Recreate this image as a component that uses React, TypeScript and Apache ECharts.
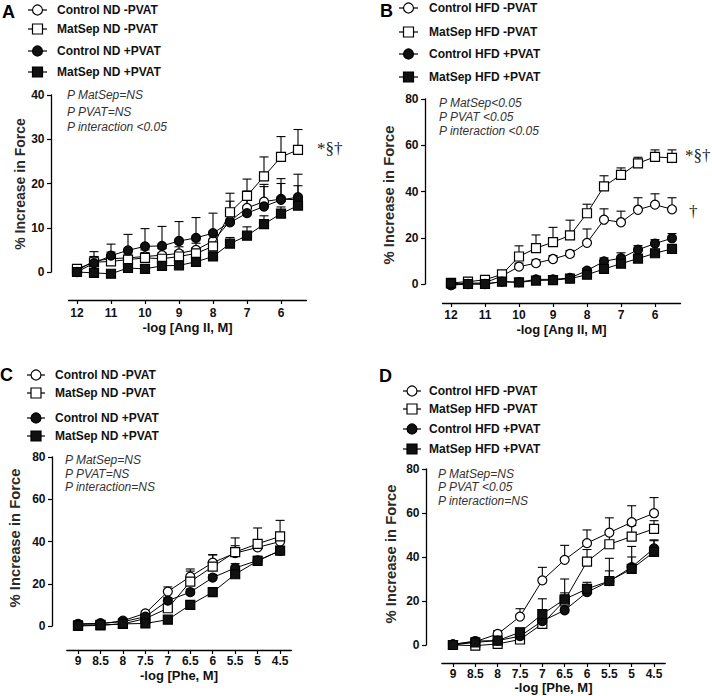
import React, { useEffect, useRef } from "react";
import * as echarts from "echarts";

// ---------- data ----------
const angX = [12, 11.5, 11, 10.5, 10, 9.5, 9, 8.5, 8, 7.5, 7, 6.5, 6, 5.5];
const pheX = [9, 8.5, 8, 7.5, 7, 6.5, 6, 5.5, 5, 4.5];
const angTicks = [12, 11, 10, 9, 8, 7, 6];
const pheTicks = [9, 8.5, 8, 7.5, 7, 6.5, 6, 5.5, 5, 4.5];

const ndNames = ["Control ND -PVAT", "MatSep ND -PVAT", "Control ND +PVAT", "MatSep ND +PVAT"];
const hfdNames = ["Control HFD -PVAT", "MatSep HFD -PVAT", "Control HFD +PVAT", "MatSep HFD +PVAT"];

// Panel A (Ang II, ND)
const aCtrlMinus = [0.3, 2.5, 3.0, 3.2, 3.5, 3.8, 4.2, 5.0, 7.0, 11.5, 14.5, 15.9, 16.5, 16.3];
const aCtrlMinusSem = [0.5, 1.0, 1.5, 1.5, 1.5, 1.5, 1.5, 1.5, 1.5, 2.5, 2.5, 3.4, 3.5, 3.2];
const aMatMinus = [0.7, 2.2, 2.4, 2.8, 3.2, 3.0, 3.5, 4.2, 5.8, 13.5, 17.2, 21.6, 26.0, 27.6];
const aMatMinusSem = [0.5, 2.4, 1.5, 1.5, 1.2, 1.3, 1.3, 1.3, 1.5, 4.3, 3.8, 4.4, 4.6, 4.6];
const aCtrlPlus = [0.0, 2.0, 3.7, 4.9, 5.8, 5.9, 7.0, 7.7, 8.8, 11.2, 13.3, 14.8, 16.3, 16.9];
const aCtrlPlusSem = [0.5, 1.5, 2.6, 3.6, 4.0, 4.4, 4.4, 4.6, 4.5, 4.8, 5.0, 5.0, 4.8, 5.2];
const aMatPlus = [0.0, -0.2, -0.4, 0.9, 0.7, 1.4, 1.5, 2.3, 3.5, 6.4, 8.2, 10.8, 13.2, 15.0];
const aMatPlusSem = [0.3, 0.4, 0.4, 0.5, 0.6, 0.6, 0.7, 0.8, 1.0, 1.4, 2.0, 1.9, 1.5, 1.0];

// Panel B (Ang II, HFD)
const bCtrlMinus = [-0.5, 0.3, 0.5, 3.5, 7.5, 9.0, 10.8, 13.0, 17.8, 27.8, 26.7, 32.1, 34.3, 32.3];
const bCtrlMinusSem = [0.3, 0.5, 0.5, 1.0, 1.5, 1.5, 1.5, 1.5, 6.0, 4.7, 4.8, 5.2, 4.7, 5.0];
const bMatMinus = [0.5, 1.0, 1.8, 4.2, 11.9, 15.5, 18.1, 21.0, 30.6, 42.2, 47.2, 52.2, 55.0, 54.5];
const bMatMinusSem = [0.3, 0.5, 0.8, 1.0, 4.6, 5.7, 6.4, 6.6, 3.9, 4.6, 3.0, 2.6, 3.0, 3.5];
const bCtrlPlus = [-0.5, 0.0, 0.0, 1.0, 0.8, 2.0, 2.0, 2.6, 5.8, 9.8, 11.2, 14.8, 17.5, 19.8];
const bCtrlPlusSem = [0.3, 0.3, 0.3, 0.5, 0.5, 0.5, 0.5, 0.5, 1.0, 1.5, 2.3, 1.8, 1.7, 2.0];
const bMatPlus = [0.3, 0.0, 0.0, 1.0, 0.7, 1.5, 1.7, 2.3, 4.0, 6.5, 8.8, 11.0, 13.3, 15.2];
const bMatPlusSem = [0.3, 0.3, 0.3, 0.4, 0.4, 0.5, 0.5, 0.6, 1.0, 1.5, 1.8, 1.5, 1.5, 1.5];

// Panel C (Phe, ND)
const cCtrlMinus = [0.8, 1.0, 2.5, 6.0, 16.3, 23.4, 30.0, 34.5, 37.2, 40.0];
const cCtrlMinusSem = [0.3, 0.5, 0.8, 1.0, 2.2, 3.6, 3.8, 3.5, 3.5, 4.0];
const cMatMinus = [0.0, 0.3, 1.0, 3.5, 8.4, 21.0, 28.1, 35.0, 38.9, 42.4];
const cMatMinusSem = [0.3, 0.3, 0.5, 1.0, 2.0, 5.0, 5.5, 6.7, 7.5, 7.6];
const cCtrlPlus = [1.0, 1.3, 2.0, 4.4, 12.0, 16.0, 22.9, 27.5, 31.0, 35.6];
const cCtrlPlusSem = [0.3, 0.3, 0.5, 0.8, 1.5, 1.5, 1.5, 2.0, 2.0, 2.0];
const cMatPlus = [0.3, 0.5, 1.0, 1.2, 3.0, 10.0, 16.0, 24.5, 30.8, 35.7];
const cMatPlusSem = [0.3, 0.3, 0.4, 0.5, 0.8, 1.5, 2.0, 2.0, 1.8, 1.5];

// Panel D (Phe, HFD)
const dCtrlMinus = [0.3, 1.5, 5.0, 12.9, 29.4, 38.7, 46.3, 51.1, 55.8, 59.9];
const dCtrlMinusSem = [0.5, 0.8, 1.5, 3.6, 5.9, 6.6, 6.0, 6.7, 7.5, 7.1];
const dMatMinus = [0.0, -0.3, 0.5, 2.5, 9.6, 20.2, 37.9, 45.8, 49.3, 52.8];
const dMatMinusSem = [0.3, 0.3, 0.5, 1.0, 2.5, 3.5, 5.5, 4.7, 5.0, 3.7];
const dCtrlPlus = [0.3, 1.8, 2.0, 4.0, 10.9, 15.8, 24.0, 29.0, 35.4, 43.9];
const dCtrlPlusSem = [0.3, 0.5, 0.5, 0.8, 1.5, 1.5, 2.5, 4.7, 4.6, 3.5];
const dMatPlus = [0.0, 1.2, 2.0, 5.8, 14.0, 20.8, 25.5, 29.1, 34.6, 42.3];
const dMatPlusSem = [0.3, 0.5, 0.8, 1.8, 7.0, 9.2, 3.0, 10.3, 10.2, 5.5];

const pA = ["P MatSep=NS", "P PVAT=NS", "P interaction <0.05"];
const pB = ["P MatSep<0.05", "P PVAT <0.05", "P interaction <0.05"];
const pC = ["P MatSep=NS", "P PVAT=NS", "P interaction=NS"];
const pD = ["P MatSep=NS", "P PVAT <0.05", "P interaction=NS"];

const yTitle = "% Increase in Force";
const angTitle = "-log [Ang II, M]";
const pheTitle = "-log [Phe, M]";

// ---------- styling ----------
const SANS = '"Liberation Sans", Arial, Helvetica, sans-serif';
const SERIF = '"Liberation Serif", "Times New Roman", serif';
const markerStyles = [
  { symbol: "circle", fill: "#ffffff" },
  { symbol: "rect", fill: "#ffffff" },
  { symbol: "circle", fill: "#111111" },
  { symbol: "rect", fill: "#111111" },
];

const panels = [
  {
    label: "A", labelX: 2, labelY: 12,
    grid: { left: 68.5, top: 95, width: 238, height: 177 },
    yMax: 40, yInt: 10, yOffset: 17.5, xOffset: 28, xLabelMargin: 7,
    xMin: 5.25, xMax: 12.25, xTicks: angTicks, xs: angX,
    values: [aCtrlMinus, aMatMinus, aCtrlPlus, aMatPlus],
    sems: [aCtrlMinusSem, aMatMinusSem, aCtrlPlusSem, aMatPlusSem],
    names: ndNames,
    legend: { x1: 28, x2: 47, textX: 57, rows: [10, 29, 51, 72] },
    p: { x: 67, ys: [95, 111.5, 127], lines: pA },
    yt: { x: 20, y: 184, size: 14 },
    xt: { x: 187.5, y: 327, text: angTitle },
    notes: [{ text: "*§†", x: 317, y: 148 }],
  },
  {
    label: "B", labelX: 380, labelY: 11,
    grid: { left: 442.5, top: 99, width: 238, height: 185 },
    yMax: 80, yInt: 20, yOffset: 17.5, xOffset: 19, xLabelMargin: 6,
    xMin: 5.25, xMax: 12.25, xTicks: angTicks, xs: angX,
    values: [bCtrlMinus, bMatMinus, bCtrlPlus, bMatPlus],
    sems: [bCtrlMinusSem, bMatMinusSem, bCtrlPlusSem, bMatPlusSem],
    names: hfdNames,
    legend: { x1: 399, x2: 418, textX: 429, rows: [8, 32, 54, 77] },
    p: { x: 439, ys: [103, 117, 131], lines: pB },
    yt: { x: 388.5, y: 195, size: 14.8 },
    xt: { x: 561.5, y: 329, text: angTitle },
    notes: [
      { text: "*§†", x: 685, y: 155 },
      { text: "†", x: 689, y: 211 },
    ],
  },
  {
    label: "C", labelX: 0, labelY: 375,
    grid: { left: 66.8, top: 457, width: 224.5, height: 169 },
    yMax: 80, yInt: 20, yOffset: 14.8, xOffset: 24, xLabelMargin: 5,
    xMin: 4.25, xMax: 9.25, xTicks: pheTicks, xs: pheX,
    values: [cCtrlMinus, cMatMinus, cCtrlPlus, cMatPlus],
    sems: [cCtrlMinusSem, cMatMinusSem, cCtrlPlusSem, cMatPlusSem],
    names: ndNames,
    legend: { x1: 27, x2: 45, textX: 55, rows: [375, 393, 418, 436] },
    p: { x: 65, ys: [460, 473.5, 487], lines: pC },
    yt: { x: 15, y: 538, size: 14.8 },
    xt: { x: 179, y: 675, text: pheTitle },
    notes: [],
  },
  {
    label: "D", labelX: 379, labelY: 376,
    grid: { left: 441.8, top: 469, width: 223.4, height: 176 },
    yMax: 80, yInt: 20, yOffset: 15.8, xOffset: 18, xLabelMargin: 5,
    xMin: 4.25, xMax: 9.25, xTicks: pheTicks, xs: pheX,
    values: [dCtrlMinus, dMatMinus, dCtrlPlus, dMatPlus],
    sems: [dCtrlMinusSem, dMatMinusSem, dCtrlPlusSem, dMatPlusSem],
    names: hfdNames,
    legend: { x1: 403, x2: 421, textX: 429, rows: [391, 409, 429, 449] },
    p: { x: 438, ys: [473.5, 487, 501], lines: pD },
    yt: { x: 391, y: 554, size: 14.8 },
    xt: { x: 553.5, y: 687.5, text: pheTitle },
    notes: [],
  },
];

function errorRender(params: any, api: any) {
  const x = api.value(0);
  const y = api.value(1);
  const top = api.value(2);
  const p0 = api.coord([x, y]);
  const p1 = api.coord([x, top]);
  const st = { stroke: "#000", lineWidth: 1.1 };
  return {
    type: "group",
    children: [
      { type: "line", shape: { x1: p0[0], y1: p0[1], x2: p1[0], y2: p1[1] }, style: st },
      { type: "line", shape: { x1: p1[0] - 4.5, y1: p1[1], x2: p1[0] + 4.5, y2: p1[1] }, style: st },
    ],
  };
}

function buildOption() {
  const grid: any[] = [];
  const xAxis: any[] = [];
  const yAxis: any[] = [];
  const series: any[] = [];
  const graphic: any[] = [];

  panels.forEach((pn, i) => {
    grid.push({ ...pn.grid, containLabel: false, outerBoundsMode: "none" });
    xAxis.push({
      type: "value",
      gridIndex: i,
      min: pn.xMin,
      max: pn.xMax,
      inverse: true,
      offset: pn.xOffset,
      splitLine: { show: false },
      axisLine: { show: true, onZero: false, lineStyle: { color: "#000", width: 1.3 } },
      axisTick: { show: true, length: 4, customValues: pn.xTicks, lineStyle: { color: "#000", width: 1.2 } },
      axisLabel: {
        customValues: pn.xTicks,
        margin: pn.xLabelMargin,
        color: "#111",
        fontFamily: SANS,
        fontWeight: "bold",
        fontSize: 12,
      },
    });
    yAxis.push({
      type: "value",
      gridIndex: i,
      min: 0,
      max: pn.yMax,
      interval: pn.yInt,
      offset: pn.yOffset,
      splitLine: { show: false },
      axisLine: { show: true, lineStyle: { color: "#000", width: 1.3 } },
      axisTick: { show: true, length: 4, lineStyle: { color: "#000", width: 1.2 } },
      axisLabel: { margin: 6.5, color: "#111", fontFamily: SANS, fontWeight: "bold", fontSize: 12 },
    });

    pn.values.forEach((vals, k) => {
      const ms = markerStyles[k];
      series.push({
        type: "custom",
        name: pn.names[k] + " SEM",
        xAxisIndex: i,
        yAxisIndex: i,
        renderItem: errorRender,
        encode: { x: 0, y: [1, 2] },
        data: vals.map((v, j) => [pn.xs[j], v, v + pn.sems[k][j]]),
        z: 2,
        silent: true,
      });
      series.push({
        type: "line",
        name: pn.names[k],
        xAxisIndex: i,
        yAxisIndex: i,
        clip: false,
        data: vals.map((v, j) => [pn.xs[j], v]),
        symbol: ms.symbol,
        symbolSize: 9,
        showAllSymbol: true,
        lineStyle: { color: "#000", width: 1 },
        itemStyle: { color: ms.fill, borderColor: "#000", borderWidth: 1.2 },
        z: 3 + k,
      });
    });

    // panel letter
    graphic.push({
      type: "text",
      x: pn.labelX,
      y: pn.labelY,
      style: { text: pn.label, font: `bold 18px ${SANS}`, fill: "#000", textVerticalAlign: "middle" },
    });
    // legend
    pn.names.forEach((nm, k) => {
      const ms = markerStyles[k];
      const cy = pn.legend.rows[k];
      const cx = (pn.legend.x1 + pn.legend.x2) / 2;
      graphic.push({
        type: "line",
        shape: { x1: pn.legend.x1, y1: cy, x2: pn.legend.x2, y2: cy },
        style: { stroke: "#000", lineWidth: 1.2 },
      });
      if (ms.symbol === "circle") {
        graphic.push({
          type: "circle",
          shape: { cx, cy, r: 5 },
          style: { fill: ms.fill, stroke: "#000", lineWidth: 1.2 },
        });
      } else {
        graphic.push({
          type: "rect",
          shape: { x: cx - 5, y: cy - 5, width: 10, height: 10 },
          style: { fill: ms.fill, stroke: "#000", lineWidth: 1.2 },
        });
      }
      graphic.push({
        type: "text",
        x: pn.legend.textX,
        y: cy,
        style: { text: nm, font: `bold 12px ${SANS}`, fill: "#111", textVerticalAlign: "middle" },
      });
    });
    // p-values
    pn.p.lines.forEach((ln, k) => {
      graphic.push({
        type: "text",
        x: pn.p.x,
        y: pn.p.ys[k],
        style: { text: ln, font: `italic 12px ${SANS}`, fill: "#333", textVerticalAlign: "middle" },
      });
    });
    // y title
    graphic.push({
      type: "text",
      x: pn.yt.x,
      y: pn.yt.y,
      rotation: Math.PI / 2,
      style: {
        text: yTitle,
        font: `bold ${pn.yt.size}px ${SANS}`,
        fill: "#2a2a2a",
        textAlign: "center",
        textVerticalAlign: "middle",
      },
    });
    // x title
    graphic.push({
      type: "text",
      x: pn.xt.x,
      y: pn.xt.y,
      style: {
        text: pn.xt.text,
        font: `bold 13px ${SANS}`,
        fill: "#111",
        textAlign: "center",
        textVerticalAlign: "middle",
      },
    });
    // significance notes
    pn.notes.forEach((nt) => {
      graphic.push({
        type: "text",
        x: nt.x,
        y: nt.y,
        style: { text: nt.text, font: `17px ${SERIF}`, fill: "#222", textVerticalAlign: "middle" },
      });
    });
  });

  return {
    animation: false,
    backgroundColor: "#ffffff",
    grid,
    xAxis,
    yAxis,
    series,
    graphic,
  };
}

export default function App() {
  const ref = useRef<HTMLDivElement>(null);
  useEffect(() => {
    if (!ref.current) return;
    const chart = echarts.init(ref.current, undefined, { renderer: "svg", width: 712, height: 696 });
    chart.setOption(buildOption() as any);
    return () => chart.dispose();
  }, []);
  return (
    <div
      ref={ref}
      style={{ position: "fixed", left: 0, top: 0, width: 712, height: 696, background: "#fff" }}
    />
  );
}
